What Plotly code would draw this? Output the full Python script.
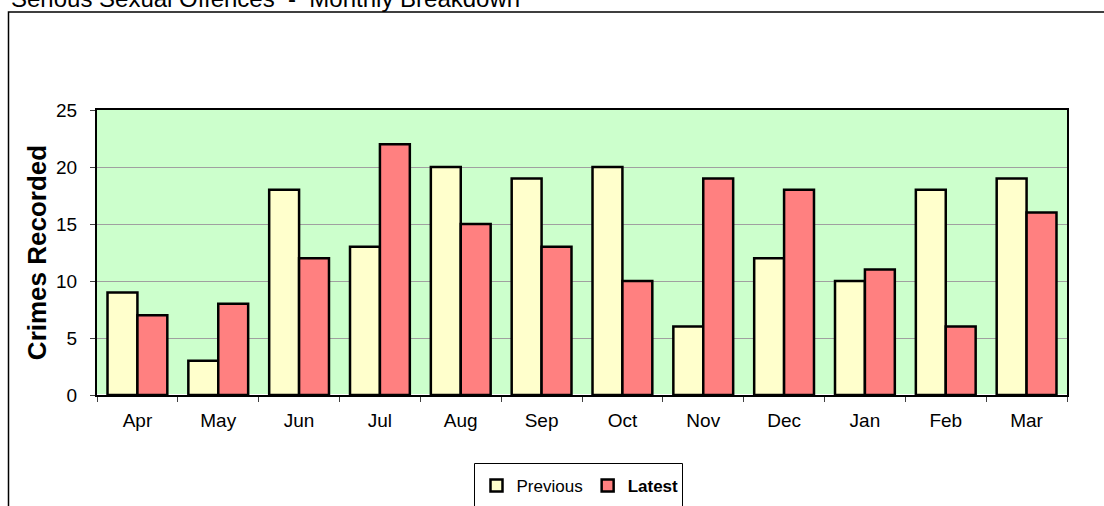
import plotly.graph_objects as go

months = ["Apr", "May", "Jun", "Jul", "Aug", "Sep", "Oct", "Nov", "Dec", "Jan", "Feb", "Mar"]
previous = [9, 3, 18, 13, 20, 19, 20, 6, 12, 10, 18, 19]
latest = [7, 8, 12, 22, 15, 13, 10, 19, 18, 11, 6, 16]

fig = go.Figure()
fig.add_trace(go.Bar(x=months, y=previous, name="Previous",
                     marker=dict(color="#FFFFCC", line=dict(color="black", width=2.5))))
fig.add_trace(go.Bar(x=months, y=latest, name="<b>Latest</b>",
                     marker=dict(color="#FF8080", line=dict(color="black", width=2.5))))

L, R, T, B = 97, 37, 110, 111
W, H = 1104, 506
pw, ph = W - L - R, H - T - B


def px(x):
    return (x - L) / pw


def py(y):
    return (H - B - y) / ph


fig.update_layout(
    width=W, height=H,
    margin=dict(l=L, r=R, t=T, b=B, autoexpand=False),
    paper_bgcolor="white",
    plot_bgcolor="#CCFFCC",
    barmode="group",
    bargap=0.26,
    bargroupgap=0,
    font=dict(family="Arial, Liberation Sans", size=19, color="black"),
    showlegend=True,
    legend=dict(orientation="h", xref="container", yref="container",
                x=580 / W, xanchor="center", y=(H - 486) / H, yanchor="middle",
                borderwidth=0, bgcolor="rgba(0,0,0,0)",
                font=dict(size=17), itemwidth=30, tracegroupgap=0),
    xaxis=dict(showline=True, linecolor="black", linewidth=2, mirror=True,
               ticks="outside", tickson="boundaries", ticklen=5, tickcolor="#404040",
               ticklabelstandoff=7, showgrid=False),
    yaxis=dict(range=[0, 25], dtick=5, showline=True, linecolor="black", linewidth=2,
               mirror=True, ticks="outside", ticklen=5, tickcolor="#404040",
               ticklabelstandoff=9, gridcolor="#A0A0A0", gridwidth=1,
               title=dict(text="<b>Crimes Recorded</b>", font=dict(size=26), standoff=2)),
    shapes=[
        dict(type="rect", xref="paper", yref="paper",
             x0=px(8.5), x1=1.2, y0=-0.6, y1=py(12),
             line=dict(color="black", width=1.5), fillcolor="rgba(0,0,0,0)", layer="below"),
        dict(type="rect", xref="paper", yref="paper",
             x0=px(474.5), x1=px(682.5), y0=py(530), y1=py(463.5),
             line=dict(color="black", width=1), fillcolor="white", layer="below"),
    ],
    annotations=[dict(text="Serious Sexual Offences  -  Monthly Breakdown", xref="paper", yref="paper",
                      x=px(9), xanchor="left", y=py(14), yanchor="bottom",
                      showarrow=False, font=dict(size=24))],
)

fig.write_html("out.html", config={"displayModeBar": False},
               post_script="document.body.style.margin='0';")
